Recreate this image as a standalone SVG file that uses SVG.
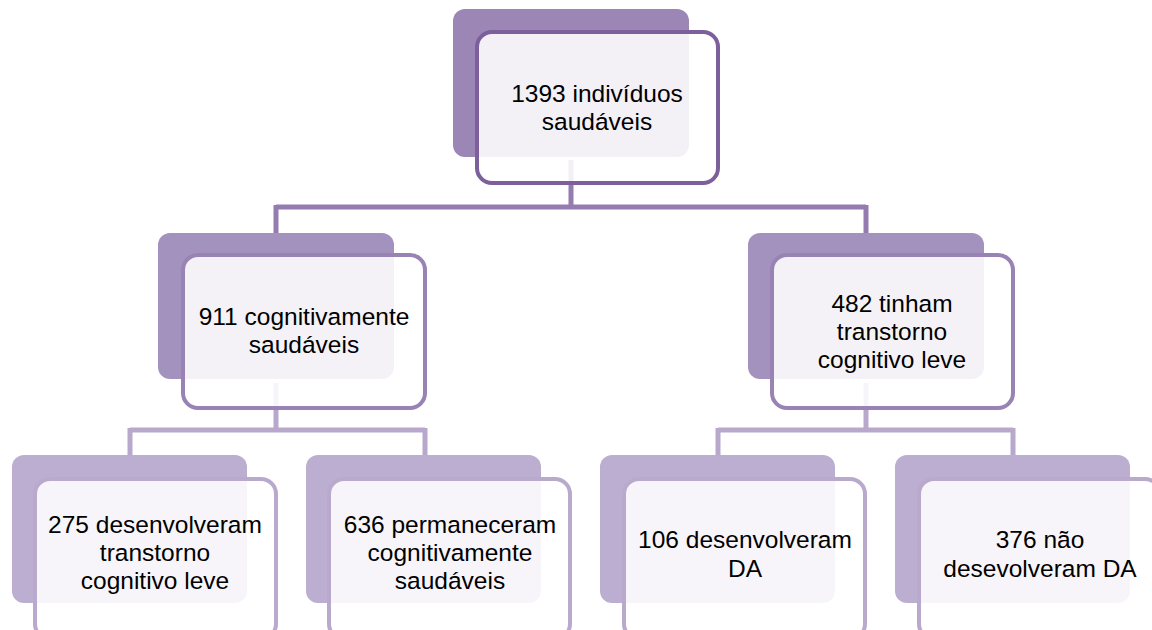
<svg xmlns="http://www.w3.org/2000/svg" width="1152" height="630" viewBox="0 0 1152 630">
<style>
.t{font-family:"Liberation Sans",Arial,sans-serif;font-size:24.5px;fill:#000;text-anchor:middle}
.front{fill:#fff;fill-opacity:0.88;stroke-width:4}
.b1{fill:#9b86b6}.f1{stroke:#7d5f9b}
.b2{fill:#a392be}.f2{stroke:#9982b4}
.b3{fill:#bcaed1}.f3{stroke:#b9aacd}
.c1{fill:none;stroke:#957cb0;stroke-width:5}
.c2{fill:none;stroke:#b8a9cc;stroke-width:5}
</style>
<rect width="1152" height="630" fill="#fff"/>
<g id="connectors">
<path class="c1" d="M571 160V207M276 207H866M276 205V234M866 205V234"/>
<path class="c2" d="M276 383V430M130 430H425M130 428V455M425 428V455"/>
<path class="c2" d="M866 383V430M718 430H1013M718 428V455M1013 428V455"/>
</g>
<g id="n1">
<rect class="b1" x="453" y="9" width="236" height="148" rx="12"/>
<rect class="front f1" x="477" y="32" width="241" height="151" rx="15"/>
<text class="t" x="597" y="102">1393 indivíduos</text>
<text class="t" x="597" y="130">saudáveis</text>
</g>
<g id="n2">
<rect class="b2" x="158" y="233" width="236" height="146" rx="12"/>
<rect class="front f2" x="183" y="255" width="242" height="153" rx="15"/>
<text class="t" x="304" y="325">911 cognitivamente</text>
<text class="t" x="304" y="353">saudáveis</text>
</g>
<g id="n3">
<rect class="b2" x="748" y="233" width="236" height="146" rx="12"/>
<rect class="front f2" x="772" y="255" width="241" height="153" rx="15"/>
<text class="t" x="892" y="312">482 tinham</text>
<text class="t" x="892" y="340">transtorno</text>
<text class="t" x="892" y="368">cognitivo leve</text>
</g>
<g id="n4">
<rect class="b3" x="12" y="455" width="235" height="148" rx="12"/>
<rect class="front f3" x="35" y="479" width="241" height="160" rx="15"/>
<text class="t" x="155" y="533">275 desenvolveram</text>
<text class="t" x="155" y="561">transtorno</text>
<text class="t" x="155" y="589">cognitivo leve</text>
</g>
<g id="n5">
<rect class="b3" x="306" y="455" width="235" height="148" rx="12"/>
<rect class="front f3" x="329" y="479" width="241" height="160" rx="15"/>
<text class="t" x="450" y="533">636 permaneceram</text>
<text class="t" x="450" y="561">cognitivamente</text>
<text class="t" x="450" y="589">saudáveis</text>
</g>
<g id="n6">
<rect class="b3" x="600" y="455" width="235" height="148" rx="12"/>
<rect class="front f3" x="624" y="479" width="241" height="160" rx="15"/>
<text class="t" x="745" y="548">106 desenvolveram</text>
<text class="t" x="745" y="577">DA</text>
</g>
<g id="n7">
<rect class="b3" x="895" y="455" width="235" height="148" rx="12"/>
<rect class="front f3" x="919" y="479" width="241" height="160" rx="15"/>
<text class="t" x="1040" y="548">376 não</text>
<text class="t" x="1040" y="577">desevolveram DA</text>
</g>
</svg>
